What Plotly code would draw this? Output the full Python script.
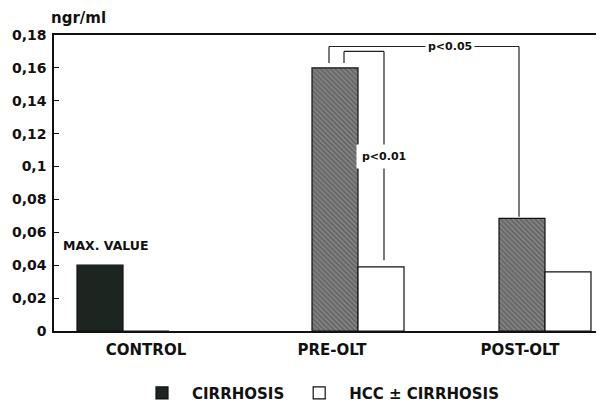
import plotly.graph_objects as go

# ---- data ----
categories = ["CONTROL", "PRE-OLT", "POST-OLT"]
cirrhosis = [0.040, 0.160, 0.0685]
hcc_cirrhosis = [0.0, 0.039, 0.036]
y_ticks = [0, 0.02, 0.04, 0.06, 0.08, 0.10, 0.12, 0.14, 0.16, 0.18]
y_tick_text = ["0", "0,02", "0,04", "0,06", "0,08", "0,1", "0,12", "0,14", "0,16", "0,18"]

# ---- layout helpers (axis units) ----
group_pos = [69, 304, 491]
label_pos = [92, 278, 466]
bar_w = 46

FONT = "DejaVu Sans"

fig = go.Figure()
fig.add_trace(go.Bar(
    name="<b>CIRRHOSIS</b>", x=group_pos, y=cirrhosis, width=bar_w, offset=-bar_w,
    marker=dict(
        color=["#1c2520", "#858585", "#858585"],
        line=dict(color="#111", width=1.2),
        pattern=dict(shape=["", "\\", "\\"], fgcolor="#141414", bgcolor="#c0c0c0",
                     size=3.5, solidity=0.55, fillmode="overlay"),
    ),
))
fig.add_trace(go.Bar(
    name="<b>HCC \u00b1 CIRRHOSIS</b>", x=group_pos, y=hcc_cirrhosis, width=bar_w, offset=0,
    marker=dict(color="white", line=dict(color="#111", width=1.2)),
))

# significance brackets
pre_c = group_pos[1] - bar_w / 2
post_c = group_pos[2] - bar_w / 2
pre_h = group_pos[1] + bar_w / 2
lw = dict(color="#222", width=1.2)
top05 = 0.173
top01 = 0.170
# p<0.05
x05a, x05b = pre_c - 6, post_c - 3
fig.add_shape(type="line", x0=x05a, x1=x05a, y0=cirrhosis[1] + 0.003, y1=top05, line=lw)
fig.add_shape(type="line", x0=x05a, x1=x05b, y0=top05, y1=top05, line=lw)
fig.add_shape(type="line", x0=x05b, x1=x05b, y0=top05, y1=cirrhosis[2] + 0.001, line=lw)
# p<0.01
x01a, x01b = pre_c + 9, pre_h + 3
fig.add_shape(type="line", x0=x01a, x1=x01a, y0=cirrhosis[1] + 0.003, y1=top01, line=lw)
fig.add_shape(type="line", x0=x01a, x1=x01b, y0=top01, y1=top01, line=lw)
fig.add_shape(type="line", x0=x01b, x1=x01b, y0=top01, y1=hcc_cirrhosis[1] + 0.004, line=lw)

fig.add_annotation(x=(x05a + x05b) / 2 + 26, y=top05, text="<b>p<0.05</b>", showarrow=False,
                   font=dict(family=FONT, size=11, color="#111"), bgcolor="white", borderpad=2)
fig.add_annotation(x=x01b, y=0.106, text="<b>p<0.01</b>", showarrow=False,
                   font=dict(family=FONT, size=11, color="#111"), bgcolor="white", borderpad=5)
fig.add_annotation(x=group_pos[0] - bar_w / 2, y=cirrhosis[0] + 0.006, text="<b>MAX. VALUE</b>",
                   showarrow=False, yanchor="bottom", xshift=6,
                   font=dict(family=FONT, size=12.5, color="#111"))
fig.add_annotation(xref="paper", yref="paper", x=0, y=1.02, xanchor="left", yanchor="bottom",
                   text="<b>ngr/ml</b>", showarrow=False, xshift=-5,
                   font=dict(family=FONT, size=15, color="#111"))

# page body has an 8px margin: figure is sized/offset to compensate
fig.update_layout(
    width=596, height=398,
    margin=dict(l=46, r=0, t=27, b=75, autoexpand=False),
    paper_bgcolor="white", plot_bgcolor="white",
    barmode="overlay",
    showlegend=True,
    legend=dict(orientation="h", x=0.48, xanchor="center", y=-0.21, yanchor="middle",
                font=dict(family=FONT, size=15, color="#111"), itemwidth=50,
                traceorder="normal"),
    font=dict(family=FONT, color="#111"),
)
fig.update_xaxes(
    range=[0, 550], tickvals=label_pos, ticktext=["<b>%s</b>" % c for c in categories],
    tickfont=dict(family=FONT, size=15, color="#111"), ticks="", ticklabelstandoff=4,
    showline=True, linecolor="#111", linewidth=2, mirror=True, showgrid=False, zeroline=False,
    automargin=False,
)
fig.update_yaxes(
    range=[0, 0.18], tickvals=y_ticks, ticktext=["<b>%s</b>" % t for t in y_tick_text],
    tickfont=dict(family=FONT, size=14, color="#111"), ticks="inside", ticklen=5,
    tickcolor="#111", showline=True, linecolor="#111", linewidth=1.5, ticklabelstandoff=3,
    showgrid=False, zeroline=False, automargin=False,
)

fig.write_html("out.html")
